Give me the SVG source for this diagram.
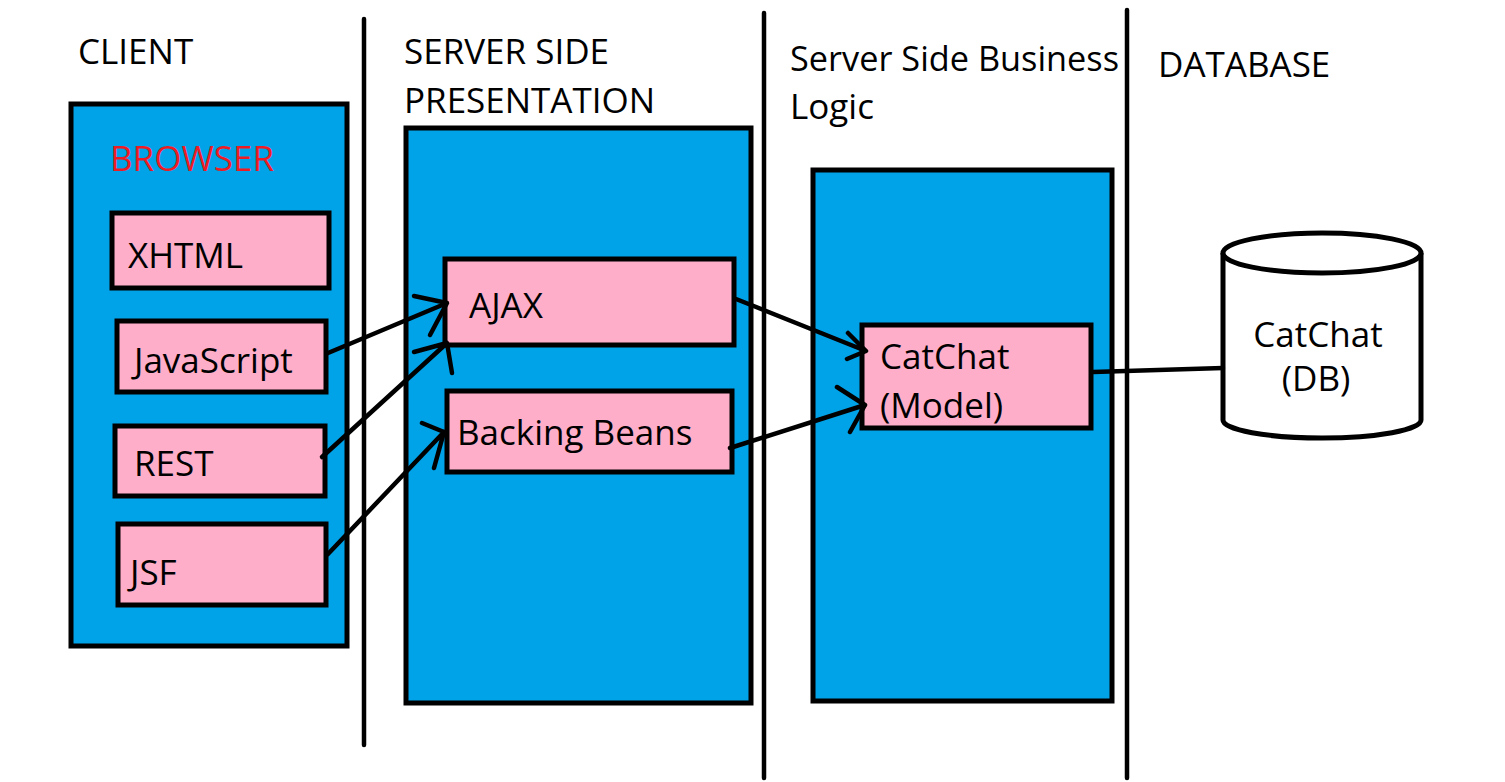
<svg xmlns="http://www.w3.org/2000/svg" width="1505" height="782" viewBox="0 0 1505 782">
<style>
.t{font-family:"Open Sans","Noto Sans",sans-serif;font-size:35px;fill:#000}
.h{font-family:"Open Sans","Noto Sans",sans-serif;font-size:35px;fill:#000}
.blue{fill:#00A2E8;stroke:#000;stroke-width:5}
.pink{fill:#FFAEC9;stroke:#000;stroke-width:5}
.sep{stroke:#000;stroke-width:4.5;fill:none;stroke-linecap:round}
.c{stroke:#000;stroke-width:4.5;fill:none;stroke-linecap:round;stroke-linejoin:round}
</style>
<rect width="1505" height="782" fill="#fff"/>
<g id="separators">
<line class="sep" x1="364" y1="19" x2="364" y2="745"/>
<line class="sep" x1="764" y1="13" x2="764" y2="778"/>
<line class="sep" x1="1127" y1="10" x2="1127" y2="778"/>
</g>
<g id="headers">
<text class="h" x="78" y="64">CLIENT</text>
<text class="h" x="404" y="64">SERVER SIDE</text>
<text class="h" x="404" y="113">PRESENTATION</text>
<text class="h" x="790" y="71" textLength="329" lengthAdjust="spacingAndGlyphs">Server Side Business</text>
<text class="h" x="790" y="119">Logic</text>
<text class="h" x="1158" y="77">DATABASE</text>
</g>
<g id="client">
<rect class="blue" x="71" y="104" width="276" height="542"/>
<text x="110" y="171" style="font-family:'Open Sans','Noto Sans',sans-serif;font-size:35px;fill:#ED1C24">BROWSER</text>
</g>
<g id="xhtml">
<rect class="pink" x="112" y="213" width="217" height="75"/>
<text class="t" x="128" y="268">XHTML</text>
</g>
<g id="javascript">
<rect class="pink" x="117" y="321" width="209" height="71"/>
<text class="t" x="134" y="373">JavaScript</text>
</g>
<g id="rest">
<rect class="pink" x="115" y="426" width="210" height="70"/>
<text class="t" x="134" y="476">REST</text>
</g>
<g id="jsf">
<rect class="pink" x="118" y="524" width="208" height="81"/>
<text class="t" x="130" y="585">JSF</text>
</g>
<g id="presentation">
<rect class="blue" x="406" y="128" width="345" height="575"/>
</g>
<g id="ajax">
<rect class="pink" x="445" y="259" width="289" height="86"/>
<text class="t" x="469" y="318">AJAX</text>
</g>
<g id="backing-beans">
<rect class="pink" x="447" y="391" width="285" height="81"/>
<text class="t" x="457" y="445">Backing Beans</text>
</g>
<g id="business">
<rect class="blue" x="813" y="170" width="299" height="531"/>
</g>
<g id="catchat-model">
<rect class="pink" x="862" y="325" width="229" height="103"/>
<text class="t" x="880" y="369">CatChat</text>
<text class="t" x="880" y="418">(Model)</text>
</g>
<g id="database">
<path d="M1223,253 L1223,420 A99,18 0 0 0 1421,420 L1421,253" fill="#fff" stroke="#000" stroke-width="5"/>
<ellipse cx="1322" cy="253" rx="99" ry="20" fill="#fff" stroke="#000" stroke-width="5"/>
<text class="t" x="1318" y="347" text-anchor="middle">CatChat</text>
<text class="t" x="1316" y="391" text-anchor="middle">(DB)</text>
</g>
<g id="connectors">
<path class="c" d="M328,353 L447,303 M414,296 L447,303 L430,335"/>
<path class="c" d="M322,457 L447,343 M414,352 L447,343 L452,373"/>
<path class="c" d="M328,554 L444,432 M422,423 L444,432 L434,468"/>
<path class="c" d="M736,299 L866,351 M848,333 L866,351 L847,359"/>
<path class="c" d="M730,448 L865,405 M837,387 L865,405 L850,432"/>
<path class="c" d="M1093,372 L1223,368"/>
</g>
</svg>
